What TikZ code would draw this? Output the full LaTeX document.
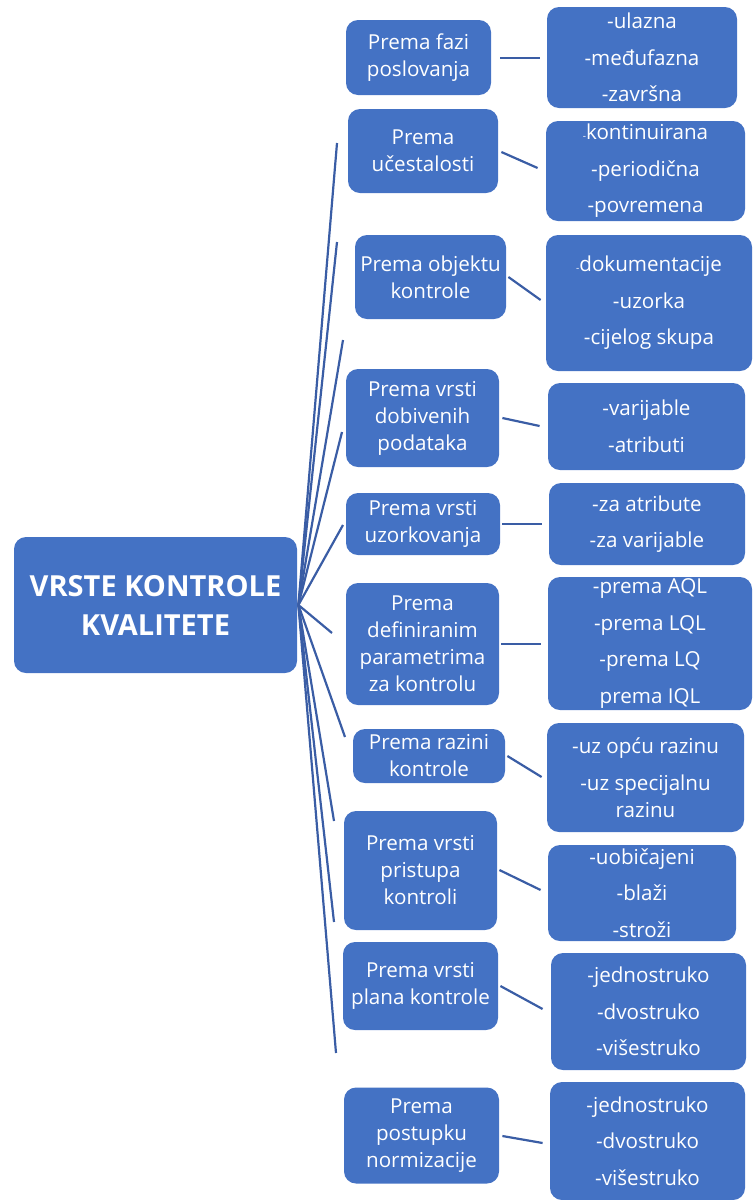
\documentclass[tikz,border=0pt]{standalone}
\usepackage{fontspec}
\setmainfont{Open Sans}
\usepackage{tikz}
\usetikzlibrary{calc}
\definecolor{kblue}{HTML}{4472C4}
\definecolor{kline}{HTML}{3A5DA5}

\begin{document}
\begin{tikzpicture}[x=0.5pt,y=-0.5pt,
  box/.style={fill=kblue, rounded corners=6pt, text=white, align=center, inner sep=0pt},
  catbox/.style={box, font=\fontsize{10.3}{13.5}\selectfont},
  leafbox/.style={box, font=\fontsize{10.3}{13.5}\selectfont},
  conn/.style={draw=kline, line width=1.1pt}]
\useasboundingbox (0,0) rectangle (752,1200);
% root
\node[box, font=\fontsize{14.5}{19.5}\selectfont\bfseries, minimum width=141.5pt, minimum height=68pt] (root) at (155.5,605) {VRSTE KONTROLE\\KVALITETE};
% categories
\node[catbox, minimum width=72.5pt, minimum height=37.5pt] (c1) at (418.5,57.5) {Prema fazi\\poslovanja};
\node[catbox, minimum width=75pt, minimum height=42pt] (c2) at (423,151) {Prema\\učestalosti};
\node[catbox, minimum width=75.5pt, minimum height=42pt] (c3) at (430.5,277) {Prema objektu\\kontrole};
\node[catbox, minimum width=76.5pt, minimum height=49pt] (c4) at (422.5,418) {Prema vrsti\\dobivenih\\podataka};
\node[catbox, minimum width=77pt, minimum height=31pt] (c5) at (423,524) {Prema vrsti\\uzorkovanja};
\node[catbox, minimum width=76.5pt, minimum height=61pt] (c6) at (422.5,644) {Prema\\definiranim\\parametrima\\za kontrolu};
\node[catbox, minimum width=76pt, minimum height=27pt] (c7) at (429,756) {Prema razini\\kontrole};
\node[catbox, minimum width=76.5pt, minimum height=59.5pt] (c8) at (420.5,870.5) {Prema vrsti\\pristupa\\kontroli};
\node[catbox, minimum width=77.5pt, minimum height=44pt] (c9) at (420.5,986) {Prema vrsti\\plana kontrole};
\node[catbox, minimum width=77.5pt, minimum height=48pt] (c10) at (421.5,1135.5) {Prema\\postupku\\normizacije};
% leaves
\node[leafbox, minimum width=95pt, minimum height=50.5pt] (l1) at (642,57.5) {-ulazna\\[4.75pt]-međufazna\\[4.75pt]-završna};
\node[leafbox, minimum width=99.5pt, minimum height=50pt] (l2) at (645.5,171) {{\tiny -}kontinuirana\\[4.75pt]-periodična\\[4.75pt]-povremena};
\node[leafbox, minimum width=103pt, minimum height=68pt] (l3) at (649,303) {{\tiny -}dokumentacije\\[4.75pt]-uzorka\\[4.75pt]-cijelog skupa};
\node[leafbox, minimum width=98.5pt, minimum height=43.5pt] (l4) at (646.5,426.5) {-varijable\\[4.75pt]-atributi};
\node[leafbox, minimum width=98pt, minimum height=41pt] (l5) at (647,524) {-za atribute\\[4.75pt]-za varijable};
\node[leafbox, minimum width=102pt, minimum height=66.5pt] (l6) at (650,643.5) {-prema AQL\\[4.75pt]-prema LQL\\[4.75pt]-prema LQ\\[4.75pt]prema IQL};
\node[leafbox, minimum width=98.5pt, minimum height=54.5pt] (l7) at (645.5,777.5) {-uz opću razinu\\[4.75pt]-uz specijalnu\\razinu};
\node[leafbox, minimum width=94pt, minimum height=48pt] (l8) at (642,893) {-uobičajeni\\[4.75pt]-blaži\\[4.75pt]-stroži};
\node[leafbox, minimum width=97.5pt, minimum height=58.5pt] (l9) at (648.5,1011.5) {-jednostruko\\[4.75pt]-dvostruko\\[4.75pt]-višestruko};
\node[leafbox, minimum width=97.5pt, minimum height=59pt] (l10) at (647.5,1141) {-jednostruko\\[4.75pt]-dvostruko\\[4.75pt]-višestruko};
% free ends of the root lines
\coordinate (t1) at (337,143);
\coordinate (t2) at (337,242);
\coordinate (t3) at (343,340);
\coordinate (t4) at (342,432);
\coordinate (t5) at (343,525);
\coordinate (t6) at (332,633);
\coordinate (t7) at (345,737);
\coordinate (t8) at (334,821);
\coordinate (t9) at (334,922);
\coordinate (t10) at (336,1053);
\path[conn] ([xshift=0.5pt]root.east)
  edge (t1) edge (t2) edge (t3) edge (t4) edge (t5)
  edge (t6) edge (t7) edge (t8) edge (t9) edge (t10);
% category to leaf
\draw[conn] ([shift={(9,0.5)}]c1.east) -- ([shift={(-7,0.5)}]l1.west);
\draw[conn] ([shift={(3,1)}]c2.east) -- ([shift={(-8,-3)}]l2.west);
\draw[conn] ([shift={(2,0)}]c3.east) -- ([shift={(-5,-3)}]l3.west);
\draw[conn] ([shift={(3,0)}]c4.east) -- ([shift={(-8,-0.5)}]l4.west);
\draw[conn] ([shift={(2,0)}]c5.east) -- ([shift={(-7,0)}]l5.west);
\draw[conn] ([shift={(2,0)}]c6.east) -- ([shift={(-7,0.5)}]l6.west);
\draw[conn] ([shift={(2,0)}]c7.east) -- ([shift={(-5,-0.5)}]l7.west);
\draw[conn] ([shift={(2,-0.5)}]c8.east) -- ([shift={(-7,-3)}]l8.west);
\draw[conn] ([shift={(2,0)}]c9.east) -- ([shift={(-8,-2.5)}]l9.west);
\draw[conn] ([shift={(3,0.5)}]c10.east) -- ([shift={(-7,2)}]l10.west);
\end{tikzpicture}
\end{document}
